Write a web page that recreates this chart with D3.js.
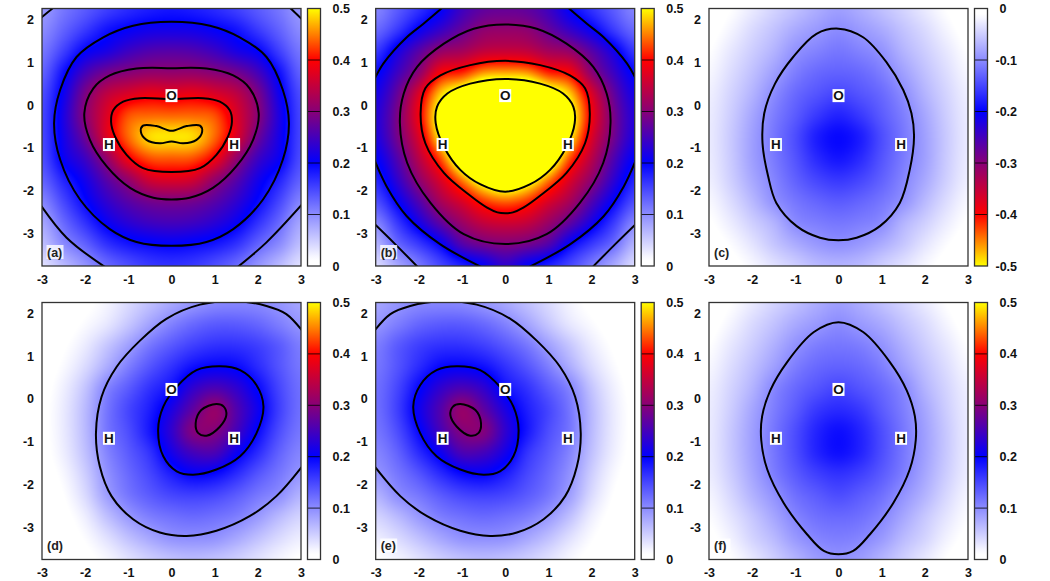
<!DOCTYPE html>
<html>
<head>
<meta charset="utf-8">
<script src="https://cdn.jsdelivr.net/npm/d3@7"></script>
<style>
  body { margin: 0; background: #fff; }
  text { font-family: "Liberation Sans", Arial, sans-serif; font-weight: bold; fill: #111; }
</style>
</head>
<body>
<div class="chart"></div>
<script>
// grid nodes the values were read at
const gridX = [-3, -2.5, -2, -1.5, -1, -0.5, 0, 0.5, 1, 1.5, 2, 2.5, 3];
const gridY = [2.25, 1.75, 1.25, 0.75, 0.25, -0.25, -0.75, -1.25, -1.75, -2.25, -2.75, -3.25, -3.75];

const gridA = [
  [.09,.115,.135,.155,.17,.18,.185,.18,.17,.155,.135,.115,.09],
  [.10,.13,.16,.188,.203,.213,.215,.213,.203,.188,.16,.13,.10],
  [.115,.155,.2,.22,.245,.26,.264,.26,.245,.22,.2,.155,.115],
  [.13,.19,.25,.285,.30,.31,.31,.31,.30,.285,.25,.19,.13],
  [.145,.21,.29,.345,.37,.385,.38,.385,.37,.345,.29,.21,.145],
  [.15,.22,.30,.37,.43,.44,.44,.44,.43,.37,.30,.22,.15],
  [.15,.215,.28,.37,.44,.485,.49,.485,.44,.37,.28,.215,.15],
  [.145,.205,.245,.31,.39,.43,.435,.43,.39,.31,.245,.205,.145],
  [.13,.175,.215,.265,.31,.36,.37,.36,.31,.265,.215,.175,.13],
  [.105,.15,.195,.235,.265,.285,.29,.285,.265,.235,.195,.15,.105],
  [.08,.125,.165,.205,.23,.245,.25,.245,.23,.205,.165,.125,.08],
  [.06,.10,.13,.165,.185,.195,.2,.195,.185,.165,.13,.10,.06],
  [.035,.065,.095,.125,.145,.16,.165,.16,.145,.125,.095,.065,.035]
];
const gridB = [
  [.105,.135,.165,.2,.245,.27,.275,.27,.245,.2,.165,.135,.105],
  [.125,.16,.205,.24,.275,.305,.31,.305,.275,.24,.205,.16,.125],
  [.16,.215,.265,.31,.325,.35,.355,.35,.325,.31,.265,.215,.16],
  [.195,.245,.305,.395,.415,.46,.467,.46,.415,.395,.305,.245,.195],
  [.215,.275,.37,.48,.54,.6,.6,.6,.54,.48,.37,.275,.215],
  [.225,.29,.39,.52,.62,.72,.75,.72,.62,.52,.39,.29,.225],
  [.22,.285,.37,.50,.63,.75,.8,.75,.63,.50,.37,.285,.22],
  [.20,.26,.34,.43,.56,.68,.72,.68,.56,.43,.34,.26,.20],
  [.175,.235,.305,.37,.45,.53,.57,.53,.45,.37,.305,.235,.175],
  [.145,.20,.26,.325,.37,.42,.44,.42,.37,.325,.26,.20,.145],
  [.105,.16,.215,.27,.315,.35,.36,.35,.315,.27,.215,.16,.105],
  [.07,.125,.16,.2,.26,.285,.295,.285,.26,.2,.16,.125,.07],
  [.04,.08,.115,.15,.18,.205,.235,.205,.18,.15,.115,.08,.04]
];
const gridC = [
  [-.003,-.012,-.028,-.045,-.06,-.075,-.085,-.075,-.06,-.045,-.028,-.012,-.003],
  [-.006,-.02,-.04,-.058,-.077,-.09,-.10,-.09,-.077,-.058,-.04,-.02,-.006],
  [-.012,-.03,-.05,-.07,-.095,-.107,-.115,-.107,-.095,-.07,-.05,-.03,-.012],
  [-.018,-.038,-.06,-.085,-.11,-.125,-.13,-.125,-.11,-.085,-.06,-.038,-.018],
  [-.024,-.045,-.07,-.10,-.125,-.14,-.15,-.14,-.125,-.10,-.07,-.045,-.024],
  [-.027,-.05,-.08,-.11,-.135,-.16,-.175,-.16,-.135,-.11,-.08,-.05,-.027],
  [-.028,-.053,-.085,-.115,-.145,-.18,-.195,-.18,-.145,-.115,-.085,-.053,-.028],
  [-.027,-.052,-.085,-.112,-.14,-.17,-.185,-.17,-.14,-.112,-.085,-.052,-.027],
  [-.024,-.048,-.078,-.105,-.13,-.15,-.16,-.15,-.13,-.105,-.078,-.048,-.024],
  [-.017,-.038,-.065,-.095,-.115,-.128,-.135,-.128,-.115,-.095,-.065,-.038,-.017],
  [-.01,-.026,-.048,-.07,-.10,-.11,-.115,-.11,-.10,-.07,-.048,-.026,-.01],
  [-.004,-.014,-.032,-.055,-.075,-.09,-.097,-.09,-.075,-.055,-.032,-.014,-.004],
  [0,-.006,-.018,-.035,-.05,-.065,-.07,-.065,-.05,-.035,-.018,-.006,0]
];
const gridD = [
  [0,.002,.008,.02,.04,.06,.078,.092,.102,.104,.102,.093,.08],
  [.001,.005,.015,.03,.055,.083,.107,.125,.135,.135,.127,.11,.093],
  [.002,.01,.027,.055,.085,.115,.137,.155,.165,.165,.155,.135,.11],
  [.004,.016,.04,.075,.11,.14,.165,.19,.2,.195,.17,.14,.115],
  [.006,.024,.057,.105,.135,.165,.19,.235,.255,.235,.195,.15,.12],
  [.008,.028,.065,.115,.15,.18,.22,.27,.31,.26,.21,.155,.12],
  [.008,.028,.065,.115,.145,.185,.235,.295,.295,.25,.195,.145,.115],
  [.007,.025,.06,.105,.135,.165,.215,.25,.255,.21,.17,.13,.105],
  [.005,.018,.05,.095,.125,.15,.18,.2,.195,.17,.14,.115,.093],
  [.003,.012,.04,.085,.115,.135,.15,.155,.15,.135,.115,.098,.07],
  [.002,.007,.025,.06,.09,.11,.12,.125,.12,.11,.09,.065,.045],
  [.001,.004,.014,.035,.06,.08,.095,.098,.095,.08,.06,.04,.025],
  [0,.001,.007,.018,.035,.05,.06,.065,.06,.05,.035,.02,.01]
];
const gridE = [
  [.08,.093,.102,.104,.102,.092,.078,.06,.04,.02,.008,.002,0],
  [.093,.11,.127,.135,.135,.125,.107,.083,.055,.03,.015,.005,.001],
  [.11,.135,.155,.165,.165,.155,.137,.115,.085,.055,.027,.01,.002],
  [.115,.14,.17,.195,.2,.19,.165,.14,.11,.075,.04,.016,.004],
  [.12,.15,.195,.235,.255,.235,.19,.165,.135,.105,.057,.024,.006],
  [.12,.155,.21,.26,.31,.27,.22,.18,.15,.115,.065,.028,.008],
  [.115,.145,.195,.25,.295,.295,.235,.185,.145,.115,.065,.028,.008],
  [.105,.13,.17,.21,.255,.25,.215,.165,.135,.105,.06,.025,.007],
  [.093,.115,.14,.17,.195,.2,.18,.15,.125,.095,.05,.018,.005],
  [.07,.098,.115,.135,.15,.155,.15,.135,.115,.085,.04,.012,.003],
  [.045,.065,.09,.11,.12,.125,.12,.11,.09,.06,.025,.007,.002],
  [.025,.04,.06,.08,.095,.098,.095,.08,.06,.035,.014,.004,.001],
  [.01,.02,.035,.05,.06,.065,.06,.05,.035,.018,.007,.001,0]
];
const gridF = [
  [.003,.012,.028,.045,.06,.075,.085,.075,.06,.045,.028,.012,.003],
  [.006,.02,.04,.058,.077,.09,.10,.09,.077,.058,.04,.02,.006],
  [.012,.03,.05,.072,.095,.11,.115,.11,.095,.072,.05,.03,.012],
  [.018,.038,.06,.085,.11,.125,.13,.125,.11,.085,.06,.038,.018],
  [.024,.045,.07,.103,.125,.14,.15,.14,.125,.103,.07,.045,.024],
  [.027,.05,.08,.11,.135,.16,.17,.16,.135,.11,.08,.05,.027],
  [.028,.054,.085,.115,.145,.175,.19,.175,.145,.115,.085,.054,.028],
  [.028,.054,.085,.115,.145,.175,.19,.175,.145,.115,.085,.054,.028],
  [.026,.05,.08,.11,.135,.155,.165,.155,.135,.11,.08,.05,.026],
  [.02,.042,.07,.095,.12,.135,.145,.135,.12,.095,.07,.042,.02],
  [.014,.032,.055,.08,.105,.12,.125,.12,.105,.08,.055,.032,.014],
  [.008,.022,.045,.065,.09,.105,.11,.105,.09,.065,.045,.022,.008],
  [.003,.012,.03,.05,.07,.088,.096,.088,.07,.05,.03,.012,.003]
];

// contour lines, [x, y]
const closedA = [
  [[0,1.94],[.89,1.85],[1.58,1.58],[2.2,1.12],[2.58,.35],[2.72,-.42],[2.58,-1.27],[2.12,-2.2],[1.43,-2.89],[.81,-3.19],[0,-3.28],[-.81,-3.19],[-1.43,-2.89],[-2.12,-2.2],[-2.58,-1.27],[-2.72,-.42],[-2.58,.35],[-2.2,1.12],[-1.58,1.58],[-.89,1.85]],
  [[0,.86],[.81,.85],[1.43,.69],[1.81,.39],[2.02,-.19],[1.89,-.81],[1.5,-1.43],[.96,-1.93],[.42,-2.16],[0,-2.2],[-.42,-2.16],[-.96,-1.93],[-1.5,-1.43],[-1.89,-.81],[-2.02,-.19],[-1.81,.39],[-1.43,.69],[-.81,.85]],
  [[0,.14],[.73,.16],[1.12,.08],[1.35,-.12],[1.4,-.39],[1.31,-.73],[1.04,-1.16],[.66,-1.47],[0,-1.56],[-.66,-1.47],[-1.04,-1.16],[-1.31,-.73],[-1.4,-.39],[-1.35,-.12],[-1.12,.08],[-.73,.16]],
  [[0,-.6],[.35,-.49],[.66,-.48],[.71,-.62],[.58,-.81],[.27,-.89],[0,-.85],[-.27,-.89],[-.58,-.81],[-.71,-.62],[-.66,-.48],[-.35,-.49]]
];
const openA = [
  [[-3.1,-2.23],[-2.43,-3.09],[-1.5,-3.8]],
  [[1.5,-3.8],[2.2,-3.2],[3.1,-2.23]],
  [[-3.1,1.97],[-2.78,2.23],[-2.7,2.3]],
  [[2.7,2.3],[2.78,2.23],[3.1,1.92]]
];
const closedB = [
  [[0,.61],[.81,.5],[1.34,.27],[1.58,-.04],[1.61,-.42],[1.42,-.97],[1.04,-1.51],[.57,-1.85],[0,-2.02],[-.57,-1.85],[-1.04,-1.51],[-1.42,-.97],[-1.61,-.42],[-1.58,-.04],[-1.34,.27],[-.81,.5]],
  [[0,1.03],[.81,.93],[1.5,.69],[1.85,.39],[1.96,-.19],[1.85,-.89],[1.42,-1.58],[.8,-2.12],[.42,-2.39],[.18,-2.5],[0,-2.52],[-.18,-2.5],[-.42,-2.39],[-.8,-2.12],[-1.42,-1.58],[-1.85,-.89],[-1.96,-.19],[-1.85,.39],[-1.5,.69],[-.81,.93]],
  [[0,1.88],[.73,1.78],[1.42,1.43],[2.04,.89],[2.35,.27],[2.44,-.42],[2.27,-1.35],[1.73,-2.28],[.96,-3.01],[0,-3.24],[-.96,-3.01],[-1.73,-2.28],[-2.27,-1.35],[-2.44,-.42],[-2.35,.27],[-2.04,.89],[-1.42,1.43],[-.73,1.78]]
];
const openB = [
  [[-3.08,.5],[-2.82,.97],[-2.28,1.58],[-1.9,1.89],[-1.42,2.3]],
  [[1.42,2.3],[1.9,1.89],[2.28,1.58],[2.82,.97],[3.08,.5]],
  [[-3.1,-1.1],[-2.75,-1.89],[-2.28,-2.59],[-1.51,-3.24],[-.5,-3.8]],
  [[.5,-3.8],[1.51,-3.24],[2.28,-2.59],[2.75,-1.89],[3.1,-1.1]],
  [[-3.1,-2.7],[-2.55,-3.24],[-2,-3.8]],
  [[2,-3.8],[2.55,-3.24],[3.1,-2.7]]
];
const closedC = [
  [[0,1.78],[.57,1.58],[1.11,1],[1.5,.35],[1.69,-.19],[1.75,-.73],[1.65,-1.51],[1.42,-2.28],[.96,-2.82],[.42,-3.09],[0,-3.15],[-.43,-3.09],[-.97,-2.82],[-1.44,-2.28],[-1.63,-1.66],[-1.76,-.89],[-1.72,-.19],[-1.47,.5],[-1.05,1.12],[-.51,1.66]]
];
const closedD = [
  [[1.12,.76],[1.59,.67],[1.97,.32],[2.13,-.18],[1.97,-.8],[1.59,-1.34],[1.04,-1.65],[.5,-1.77],[.12,-1.69],[-.19,-1.34],[-.31,-.72],[-.19,-.18],[.12,.28],[.58,.67]],
  [[1.04,-.12],[1.21,-.18],[1.27,-.38],[1.12,-.65],[.81,-.86],[.62,-.8],[.56,-.57],[.69,-.26]]
];
const openD = [
  [[3.1,1.5],[2.66,1.98],[2.2,2.17],[1.5,2.28],[.66,2.2],[-.12,1.87],[-.73,1.36],[-1.27,.75],[-1.62,.05],[-1.75,-.8],[-1.66,-1.58],[-1.39,-2.27],[-.89,-2.81],[-.27,-3.12],[.35,-3.2],[1.04,-3.08],[1.81,-2.74],[2.43,-2.27],[3.1,-1.48]]
];
const closedE = [
  [[-1.12,.76],[-1.59,.67],[-1.97,.32],[-2.13,-.18],[-1.97,-.8],[-1.59,-1.34],[-1.04,-1.65],[-.5,-1.77],[-.12,-1.69],[.19,-1.34],[.31,-.72],[.19,-.18],[-.12,.28],[-.58,.67]],
  [[-1.04,-.12],[-1.21,-.18],[-1.27,-.38],[-1.12,-.65],[-.81,-.86],[-.62,-.8],[-.56,-.57],[-.69,-.26]]
];
const openE = [
  [[-3.1,1.5],[-2.66,1.98],[-2.2,2.17],[-1.5,2.28],[-.66,2.2],[.12,1.87],[.73,1.36],[1.27,.75],[1.62,.05],[1.75,-.8],[1.66,-1.58],[1.39,-2.27],[.89,-2.81],[.27,-3.12],[-.35,-3.2],[-1.04,-3.08],[-1.81,-2.74],[-2.43,-2.27],[-3.1,-1.48]]
];
const closedF = [
  [[0,1.79],[.57,1.56],[1.19,.86],[1.58,.2],[1.77,-.41],[1.79,-.96],[1.65,-1.65],[1.27,-2.43],[.73,-3.16],[.34,-3.55],[0,-3.63],[-.34,-3.55],[-.73,-3.16],[-1.27,-2.43],[-1.65,-1.65],[-1.79,-.96],[-1.77,-.41],[-1.58,.2],[-1.19,.86],[-.57,1.56]]
];

const atoms = [["O", 0, .22], ["H", -1.45, -.92], ["H", 1.45, -.92]];
const panelNames = ["(a)", "(b)", "(c)", "(d)", "(e)", "(f)"];
const xTicks = [-3, -2, -1, 0, 1, 2, 3];
const yTicks = [-3, -2, -1, 0, 1, 2];
const barTicks = [0, .1, .2, .3, .4, .5];
const barTicksNeg = [0, -.1, -.2, -.3, -.4, -.5];

const colorStops = [0, .012, .1, .2, .3, .4, .5];
const colorValues = ["#ffffff", "#ffffff", "#8c8cff", "#0000ff", "#880077", "#ff0000", "#ffff00"];
const color = d3.scaleLinear().domain(colorStops).range(colorValues).clamp(true);

const panels = [
  {name: panelNames[0], grid: gridA, closed: closedA, open: openA},
  {name: panelNames[1], grid: gridB, closed: closedB, open: openB},
  {name: panelNames[2], grid: gridC, closed: closedC, open: [], neg: true},
  {name: panelNames[3], grid: gridD, closed: closedD, open: openD},
  {name: panelNames[4], grid: gridE, closed: closedE, open: openE},
  {name: panelNames[5], grid: gridF, closed: closedF, open: []}
];

const lefts = [42, 375.7, 709];
const tops = [8.5, 302.5];
const plotW = 259, plotH = [257.5, 257];

const svg = d3.select(".chart").append("svg")
  .attr("width", 1050)
  .attr("height", 581)
  .style("display", "block");

const defs = svg.append("defs");

// one gradient for the colour bars, bottom (0) to top (0.5)
const grad = defs.append("linearGradient")
  .attr("id", "bar-up")
  .attr("x1", 0).attr("x2", 0).attr("y1", 1).attr("y2", 0);
grad.selectAll("stop")
  .data(d3.range(0, 51))
  .enter().append("stop")
  .attr("offset", d => d / 50)
  .attr("stop-color", d => color(d / 100));
const gradDown = defs.append("linearGradient")
  .attr("id", "bar-down")
  .attr("x1", 0).attr("x2", 0).attr("y1", 0).attr("y2", 1);
gradDown.selectAll("stop")
  .data(d3.range(0, 51))
  .enter().append("stop")
  .attr("offset", d => d / 50)
  .attr("stop-color", d => color(d / 100));

function cubic(a, b, c, d, t) {
  return b + 0.5 * t * (c - a + t * (2 * a - 5 * b + 4 * c - d + t * (3 * (b - c) + d - a)));
}

// smooth lookup between the grid nodes, only for painting the heat map
function sample(grid, x, y) {
  const fx = (x - gridX[0]) / (gridX[1] - gridX[0]);
  const fy = (gridY[0] - y) / (gridY[0] - gridY[1]);
  const ix = Math.max(0, Math.min(gridX.length - 2, Math.floor(fx)));
  const iy = Math.max(0, Math.min(gridY.length - 2, Math.floor(fy)));
  const at = (r, c) => grid[Math.max(0, Math.min(gridY.length - 1, r))][Math.max(0, Math.min(gridX.length - 1, c))];
  const rows = [-1, 0, 1, 2].map(dr =>
    cubic(at(iy + dr, ix - 1), at(iy + dr, ix), at(iy + dr, ix + 1), at(iy + dr, ix + 2), fx - ix));
  return cubic(rows[0], rows[1], rows[2], rows[3], fy - iy);
}

panels.forEach((p, i) => {
  const left = lefts[i % 3];
  const top = tops[Math.floor(i / 3)];
  const h = plotH[Math.floor(i / 3)];

  const x = d3.scaleLinear().domain([-3, 3]).range([0, plotW]);
  const y = d3.scaleLinear().domain([-3.75, 2.25]).range([h, 0]);

  const g = svg.append("g").attr("transform", `translate(${left},${top})`);

  // heat map
  const canvas = document.createElement("canvas");
  canvas.width = plotW;
  canvas.height = Math.round(h);
  const ctx = canvas.getContext("2d");
  for (let py = 0; py < canvas.height; py++) {
    for (let px = 0; px < canvas.width; px++) {
      ctx.fillStyle = color(Math.abs(sample(p.grid, x.invert(px + 0.5), y.invert(py + 0.5))));
      ctx.fillRect(px, py, 1, 1);
    }
  }
  g.append("image")
    .attr("width", plotW)
    .attr("height", h)
    .attr("preserveAspectRatio", "none")
    .attr("href", canvas.toDataURL());

  // contours
  defs.append("clipPath").attr("id", "clip" + i)
    .append("rect").attr("width", plotW).attr("height", h);
  const lines = g.append("g").attr("clip-path", `url(#clip${i})`)
    .attr("fill", "none")
    .attr("stroke", "#000")
    .attr("stroke-width", 2);
  const closedLine = d3.line().x(d => x(d[0])).y(d => y(d[1])).curve(d3.curveCatmullRomClosed);
  const openLine = d3.line().x(d => x(d[0])).y(d => y(d[1])).curve(d3.curveCatmullRom);
  lines.selectAll("path.closed").data(p.closed).enter().append("path")
    .attr("class", "closed").attr("d", closedLine);
  lines.selectAll("path.open").data(p.open).enter().append("path")
    .attr("class", "open").attr("d", openLine);

  // atom markers
  const atom = g.selectAll("g.atom").data(atoms).enter().append("g")
    .attr("class", "atom")
    .attr("transform", d => `translate(${x(d[1])},${y(d[2])})`);
  atom.append("rect")
    .attr("x", -6).attr("y", -6.5).attr("width", 12).attr("height", 13)
    .attr("fill", "#fff");
  atom.append("text")
    .attr("text-anchor", "middle")
    .attr("y", 4.8)
    .style("font-size", "13.5px")
    .text(d => d[0]);

  // panel letter
  g.append("rect")
    .attr("x", 4.5).attr("y", h - 21).attr("width", 17).attr("height", 14)
    .attr("fill", "#fff").attr("opacity", 0.8);
  g.append("text")
    .attr("x", 5).attr("y", h - 9.5)
    .style("font-size", "12.5px")
    .style("fill", "#222")
    .text(p.name);

  // frame
  g.append("rect")
    .attr("width", plotW).attr("height", h)
    .attr("fill", "none").attr("stroke", "#333").attr("stroke-width", 1.3);

  // axes, no visible ticks in the original
  const xAxis = g.append("g").attr("transform", `translate(0,${h})`)
    .call(d3.axisBottom(x).tickValues(xTicks).tickSize(0).tickPadding(9).tickFormat(String));
  const yAxis = g.append("g")
    .call(d3.axisLeft(y).tickValues(yTicks).tickSize(0).tickPadding(8).tickFormat(String));
  xAxis.select(".domain").remove();
  yAxis.select(".domain").remove();

  // colour bar
  const barX = plotW + 6.5, barW = 13;
  const bar = g.append("g").attr("transform", `translate(${barX},0)`);
  bar.append("rect").attr("width", barW).attr("height", h)
    .attr("fill", p.neg ? "url(#bar-down)" : "url(#bar-up)");
  const barScale = d3.scaleLinear().domain(p.neg ? [-.5, 0] : [0, .5]).range([h, 0]);
  const barAxis = bar.append("g").attr("transform", `translate(${barW},0)`)
    .call(d3.axisRight(barScale)
      .tickValues(p.neg ? barTicksNeg : barTicks)
      .tickSize(0)
      .tickFormat(String));
  barAxis.select(".domain").remove();
  barAxis.selectAll("text").attr("x", d => d < 0 ? 8 : 12);
  bar.selectAll("line.tick-mark")
    .data((p.neg ? barTicksNeg : barTicks).slice(1, 5))
    .enter().append("line")
    .attr("class", "tick-mark")
    .attr("x1", 0).attr("x2", barW)
    .attr("y1", d => barScale(d)).attr("y2", d => barScale(d))
    .attr("stroke", "#000")
    .attr("stroke-width", 1)
    .attr("opacity", 0.8);
  bar.append("rect").attr("width", barW).attr("height", h)
    .attr("fill", "none").attr("stroke", "#333").attr("stroke-width", 1.3);

  g.selectAll(".tick text").style("font-size", "12.5px").attr("fill", null);
});
svg.selectAll("g[font-family]").attr("font-family", null);
</script>
</body>
</html>
